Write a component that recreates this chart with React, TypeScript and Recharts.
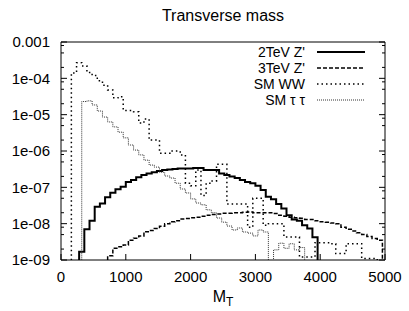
import { LineChart, Line, XAxis, YAxis, Legend, Label } from "recharts";

// histogram bins are 80 wide; each series lists its bin contents from its first bin
const BIN = 80;
const FLOOR = 1e-10; // empty bins sit below the axis and get clipped

const xTicks = [0, 1000, 2000, 3000, 4000, 5000];
const yTicks = [1e-9, 1e-8, 1e-7, 1e-6, 1e-5, 1e-4, 1e-3];
const yTickLabels = ["1e-09", "1e-08", "1e-07", "1e-06", "1e-05", "1e-04", "0.001"];
const minorMantissas = [2, 5, 8];

const z2Start = 280;
const z2Values = [
  1.7e-9, 7e-9, 1.2e-8, 2.9e-8, 3.6e-8, 5.3e-8, 7.1e-8, 8.8e-8, 1.04e-7, 1.4e-7,
  1.6e-7, 1.9e-7, 2.2e-7, 2.4e-7, 2.6e-7, 2.8e-7, 3.0e-7, 3.1e-7, 3.2e-7, 3.3e-7,
  3.3e-7, 3.3e-7, 3.4e-7, 3.4e-7, 3.0e-7, 3.0e-7, 3.0e-7, 2.4e-7, 2.2e-7, 2.0e-7,
  1.8e-7, 1.6e-7, 1.4e-7, 1.3e-7, 1.1e-7, 8.4e-8, 5.5e-8, 4.7e-8, 3.5e-8, 2.6e-8,
  1.7e-8, 1.3e-8, 1.2e-8, 9e-9, 7.4e-9, 4.2e-9,
];

const z3Start = 720;
const z3Values = [
  1.3e-9, 2.1e-9, 2.3e-9, 2.6e-9, 3.5e-9, 4.0e-9, 4.6e-9, 6.0e-9, 6.5e-9, 7.4e-9,
  8.5e-9, 1.0e-8, 1.13e-8, 1.2e-8, 1.34e-8, 1.38e-8, 1.45e-8, 1.5e-8, 1.6e-8, 1.7e-8,
  1.8e-8, 1.85e-8, 1.93e-8, 1.95e-8, 2.0e-8, 2.0e-8, 2.05e-8, 2.1e-8, 2.0e-8, 2.0e-8,
  2.0e-8, 2.0e-8, 1.9e-8, 1.7e-8, 1.6e-8, 1.5e-8, 1.45e-8, 1.4e-8, 1.3e-8, 1.3e-8,
  1.2e-8, 1.13e-8, 1.1e-8, 1.05e-8, 1.0e-8, 8e-9, 7e-9, 6.3e-9, 5.6e-9, 5e-9,
  4.4e-9, 3.9e-9, 3.5e-9,
];

const wwStart = 160;
const wwValues = [
  1.4e-4, 2.7e-4, 2.2e-4, 1.45e-4, 1.2e-4, 8.6e-5, 6.5e-5, 4.8e-5, 2.9e-5, 3.1e-5,
  1.3e-5, 1.3e-5, 1.2e-5, 5.9e-6, 7.6e-6, 2.0e-6, 2.0e-6, 8.7e-7, 8.7e-7, 1.0e-6,
  1.0e-6, 7.8e-7, 1.3e-7, 1.1e-7, 3.0e-7, 6e-8, 1.3e-7, 1.5e-7, 4.3e-7, 4.3e-7,
  3.5e-8, 3.5e-8, 3.5e-8, 3.5e-8, 8e-9, 5e-8, 5e-8, 9e-9, 1e-8, 1e-8,
  1e-8, 4.3e-9, 4.3e-9, 4.3e-9, 1.2e-9, 1.2e-9, 1.2e-9, 3e-9, 3e-9, 3e-9,
  2.8e-9, 1.5e-9, 1.5e-9, 2.8e-9, 2.8e-9, 2.8e-9, 1.1e-9, 1.1e-9, 1.1e-9,
];

const tautauStart = 320;
const tautauValues = [
  2.3e-5, 2.4e-5, 1.85e-5, 1.26e-5, 8.6e-6, 6.3e-6, 4.6e-6, 3.3e-6, 2.3e-6, 1.46e-6,
  1.06e-6, 7.8e-7, 5.6e-7, 4.1e-7, 3.6e-7, 2.6e-7, 2.05e-7, 1.8e-7, 1.3e-7, 9e-8,
  7e-8, 4.8e-8, 3.7e-8, 3.3e-8, 2.4e-8, 2.0e-8, 1.43e-8, 1.1e-8, 8.6e-9, 6.7e-9,
  7.6e-9, 5.9e-9, 5.5e-9, 4.6e-9, 6.7e-9, 5.9e-9, 0, 1.9e-9, 2.9e-9, 2.1e-9,
  2.8e-9, 1.9e-9, 2.2e-9,
];

// step outline of a histogram: rise from below, one point per bin, drop at the end
function histogram(start: number, values: number[]) {
  const pts = [{ x: start, y: FLOOR }];
  values.forEach((v, i) => pts.push({ x: start + i * BIN, y: v > 0 ? v : FLOOR }));
  const end = start + values.length * BIN;
  pts.push({ x: end, y: pts[pts.length - 1].y });
  pts.push({ x: end, y: FLOOR });
  return pts;
}

const series = [
  { name: "2TeV Z'", data: histogram(z2Start, z2Values), width: 2, dash: undefined, color: "#000" },
  { name: "3TeV Z'", data: histogram(z3Start, z3Values), width: 1.5, dash: "4 2", color: "#000" },
  { name: "SM WW", data: histogram(wwStart, wwValues), width: 1.5, dash: "1.5 3", color: "#000" },
  { name: "SM τ τ", data: histogram(tautauStart, tautauValues), width: 1, dash: "1 1", color: "#333" },
];

const minorTicks = yTicks.slice(0, -1).flatMap((d) => minorMantissas.map((m) => m * d));
const allYTicks = [...yTicks, ...minorTicks].sort((a, b) => a - b);

const majorIndex = (v: number) => yTicks.findIndex((t) => Math.abs(t - v) / t < 1e-6);

function LeftTick(props: any) {
  const { x, y, payload } = props;
  const i = majorIndex(payload.value);
  return (
    <g>
      <line x1={x} x2={x + (i >= 0 ? 6 : 3)} y1={y} y2={y} stroke="#000" />
      {i >= 0 && (
        <text x={x - 11} y={y} dy="0.35em" textAnchor="end" fontSize={15} fill="#000">
          {yTickLabels[i]}
        </text>
      )}
    </g>
  );
}

function RightTick(props: any) {
  const { x, y, payload } = props;
  const i = majorIndex(payload.value);
  return <line x1={x} x2={x - (i >= 0 ? 6 : 3)} y1={y} y2={y} stroke="#000" />;
}

function MtLabel(props: any) {
  const { x, y, width } = props.viewBox;
  return (
    <text x={x + width / 2} y={y + 42} textAnchor="middle" fill="#000">
      <tspan fontSize={16}>M</tspan>
      <tspan fontSize={12} dy={4}>T</tspan>
    </text>
  );
}

function LegendBox() {
  return (
    <svg width={150} height={66}>
      {series.map((s, i) => {
        const cy = 8 + i * 16;
        return (
          <g key={s.name}>
            <text x={75} y={cy} dy="0.35em" textAnchor="end" fontSize={14} fill="#000">
              {s.name}
            </text>
            <line
              x1={87}
              x2={135}
              y1={cy}
              y2={cy}
              stroke={s.color}
              strokeWidth={s.width}
              strokeDasharray={s.dash}
            />
          </g>
        );
      })}
    </svg>
  );
}

export default function App() {
  return (
    <div
      style={{
        position: "absolute",
        left: 0,
        top: 0,
        background: "#fff",
        fontFamily: "'Liberation Sans', Arial, sans-serif",
      }}
    >
      <LineChart width={409} height={311} margin={{ top: 41, right: 23, bottom: 21, left: 0 }}>
        <XAxis
          xAxisId="b"
          type="number"
          dataKey="x"
          domain={[0, 5000]}
          ticks={xTicks}
          interval={0}
          allowDataOverflow
          height={30}
          tickSize={-6}
          tickMargin={17}
          stroke="#000"
          tick={{ fill: "#000", fontSize: 15 }}
        >
          <Label content={MtLabel} />
        </XAxis>
        <XAxis
          xAxisId="t"
          orientation="top"
          type="number"
          dataKey="x"
          domain={[0, 5000]}
          ticks={xTicks}
          interval={0}
          allowDataOverflow
          height={1}
          tickSize={-6}
          tick={false}
          stroke="#000"
        >
          <Label value="Transverse mass" position="top" offset={20} fontSize={16} fill="#000" />
        </XAxis>
        <YAxis
          yAxisId="l"
          scale="log"
          domain={[1e-9, 1e-3]}
          allowDataOverflow
          ticks={allYTicks}
          interval={0}
          width={61}
          tickSize={0}
          tickMargin={0}
          tickLine={false}
          stroke="#000"
          tick={LeftTick}
        />
        <YAxis
          yAxisId="r"
          orientation="right"
          scale="log"
          domain={[1e-9, 1e-3]}
          allowDataOverflow
          ticks={allYTicks}
          interval={0}
          width={1}
          tickSize={0}
          tickMargin={0}
          tickLine={false}
          stroke="#000"
          tick={RightTick}
        />
        <Legend
          layout="horizontal"
          verticalAlign="middle"
          align="center"
          wrapperStyle={{ left: 230, top: 44, width: 150, height: 66 }}
          content={() => <LegendBox />}
        />
        {series.map((s) => (
          <Line
            key={s.name}
            name={s.name}
            data={s.data}
            dataKey="y"
            xAxisId="b"
            yAxisId="l"
            type="stepAfter"
            stroke={s.color}
            strokeWidth={s.width}
            strokeDasharray={s.dash}
            dot={false}
            activeDot={false}
            isAnimationActive={false}
          />
        ))}
        {/* invisible copy so the top and right frame axes get a series */}
        <Line
          data={series[0].data}
          dataKey="y"
          xAxisId="t"
          yAxisId="r"
          stroke="none"
          dot={false}
          activeDot={false}
          legendType="none"
          isAnimationActive={false}
        />
      </LineChart>
    </div>
  );
}
